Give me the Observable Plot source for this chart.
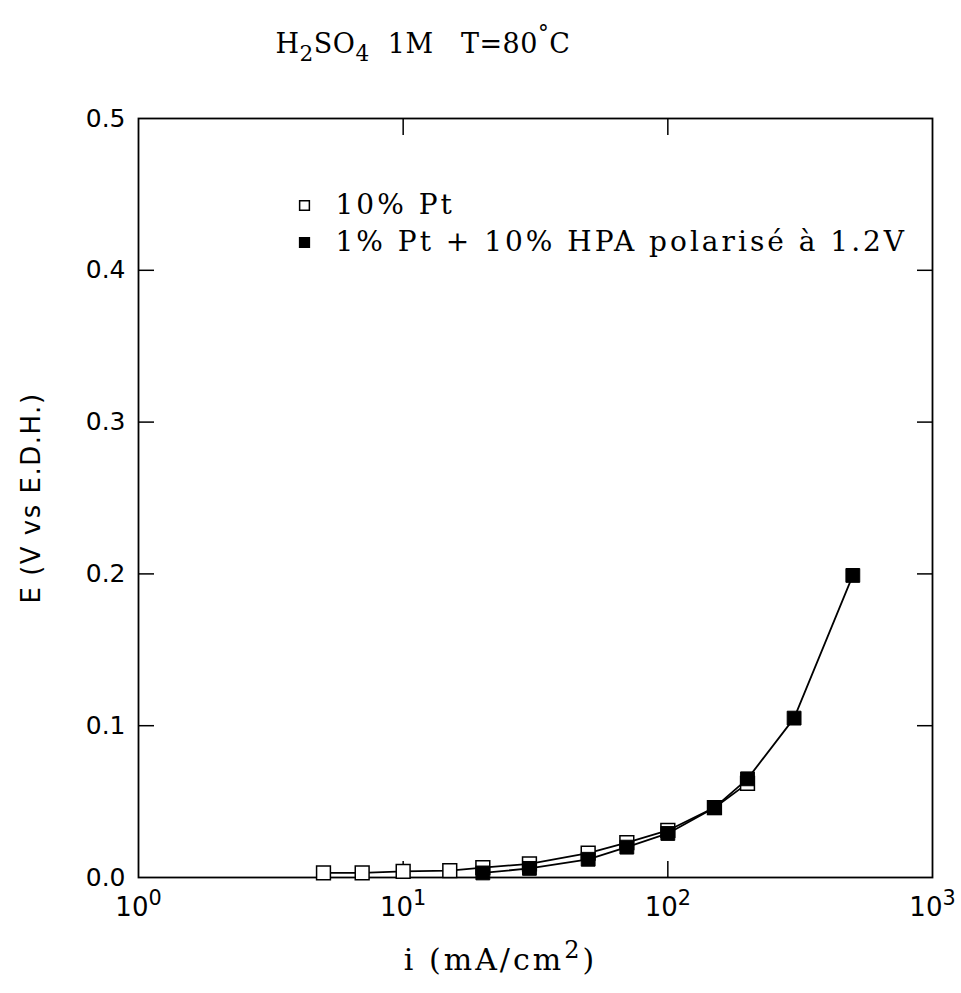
<!DOCTYPE html>
<html><head><meta charset="utf-8">
<script src="https://cdn.jsdelivr.net/npm/d3@7"></script>
<script src="https://cdn.jsdelivr.net/npm/@observablehq/plot@0.6"></script>
<style>body{margin:0;background:#fff}</style>
</head><body><div id="chart"></div>
<script>
// ---- text (^x = superscript, _x = subscript) ----
const titleText = "H_2SO_4\u00a0\u00a01M\u00a0\u00a0\u00a0T=80^°C";
const xLabel = "i (mA/cm^2)";
const yLabel = "E (V vs E.D.H.)";
const seriesNames = ["10% Pt", "1% Pt + 10% HPA polarisé à 1.2V"];

// ---- data ----
const iOpen = [5, 7, 10, 15, 20, 30, 50, 70, 100, 150, 200];
const eOpen = [0.003, 0.003, 0.004, 0.0045, 0.0065, 0.009, 0.016, 0.023, 0.031, 0.046, 0.062];
const iFilled = [20, 30, 50, 70, 100, 150, 200, 300, 500];
const eFilled = [0.003, 0.006, 0.012, 0.020, 0.029, 0.046, 0.065, 0.105, 0.199];

// ---- ticks ----
const xTicks = [1, 10, 100, 1000];
const xTickLabels = ["10^0", "10^1", "10^2", "10^3"];
const xInnerTicks = [10, 100];
const yTicks = [0, 0.1, 0.2, 0.3, 0.4, 0.5];
const yTickLabels = ["0.0", "0.1", "0.2", "0.3", "0.4", "0.5"];
const yInnerTicks = [0.1, 0.2, 0.3, 0.4];

const openData = iOpen.map((i, k) => ({i, e: eOpen[k]}));
const filledData = iFilled.map((i, k) => ({i, e: eFilled[k]}));

const serif = "DejaVu Serif";
const sans = "DejaVu Sans";

const chart = Plot.plot({
  width: 961, height: 993,
  marginLeft: 138, marginRight: 29, marginTop: 118, marginBottom: 116,
  style: {fontFamily: sans, fontSize: "24px", color: "#000", background: "#fff"},
  x: {type: "log", domain: [1, 1000]},
  y: {domain: [0, 0.5]},
  marks: [
    Plot.axisX(xTicks, {anchor: "bottom", tickSize: 0, tickPadding: 20, label: null,
      tickFormat: d => xTickLabels[xTicks.indexOf(d)], fontSize: 26, fontFamily: sans}),
    Plot.axisX(xInnerTicks, {anchor: "bottom", tickSize: -16, label: null, tickFormat: () => "", strokeWidth: 1.5}),
    Plot.axisX(xInnerTicks, {anchor: "top", tickSize: -16, label: null, tickFormat: () => "", strokeWidth: 1.5}),
    Plot.axisY(yTicks, {anchor: "left", tickSize: 0, tickPadding: 13, label: null,
      tickFormat: d => yTickLabels[yTicks.indexOf(d)], fontSize: 25, fontFamily: sans}),
    Plot.axisY(yInnerTicks, {anchor: "left", tickSize: -16, label: null, tickFormat: () => "", strokeWidth: 1.5}),
    Plot.axisY(yInnerTicks, {anchor: "right", tickSize: -16, label: null, tickFormat: () => "", strokeWidth: 1.5}),
    Plot.frame({stroke: "#000", strokeWidth: 1.8}),
    Plot.line(openData, {x: "i", y: "e", stroke: "#000", strokeWidth: 1.8}),
    Plot.line(filledData, {x: "i", y: "e", stroke: "#000", strokeWidth: 1.8}),
    Plot.dot(openData, {x: "i", y: "e", symbol: "square", r: 7.8, fill: "#fff", stroke: "#000", strokeWidth: 1.5}),
    Plot.dot(filledData, {x: "i", y: "e", symbol: "square", r: 7.8, fill: "#000", stroke: "#000", strokeWidth: 1}),
    // legend
    Plot.dot([seriesNames[0]], {frameAnchor: "top-left", dx: 166, dy: 87, symbol: "square", r: 5.5, fill: "#fff", stroke: "#000", strokeWidth: 1.5}),
    Plot.dot([seriesNames[1]], {frameAnchor: "top-left", dx: 166, dy: 124, symbol: "square", r: 5.5, fill: "#000", stroke: "#000"}),
    Plot.text([seriesNames[0]], {frameAnchor: "top-left", dx: 197, dy: 87, textAnchor: "start", lineAnchor: "middle", fontFamily: serif, fontSize: 28}),
    Plot.text([seriesNames[1]], {frameAnchor: "top-left", dx: 197, dy: 124, textAnchor: "start", lineAnchor: "middle", fontFamily: serif, fontSize: 28}),
    // title and axis labels
    Plot.text([titleText], {frameAnchor: "top-left", dx: 137, dy: -74, textAnchor: "start", lineAnchor: "middle", fontFamily: serif, fontSize: 27}),
    Plot.text([xLabel], {frameAnchor: "bottom-left", dx: 362, dy: 83, textAnchor: "middle", lineAnchor: "middle", fontFamily: serif, fontSize: 30}),
    Plot.text([yLabel], {frameAnchor: "left", rotate: -90, dx: -107, textAnchor: "middle", lineAnchor: "middle", fontFamily: sans, fontSize: 26})
  ]
});

const svg = d3.select(chart);
const spacing = new Map([
  [seriesNames[0], "3px"], [seriesNames[1], "3px"],
  [xLabel, "3px"], [yLabel, "1.5px"], [titleText, "0.5px"]
]);
function rich(el, supShift, subShift) {
  const t = el.textContent;
  if (!/[_^]/.test(t)) return;
  const s = d3.select(el);
  s.text(null);
  for (const p of t.split(/([_^].)/).filter(p => p !== "")) {
    if (p.length === 2 && p[0] === "^") {
      s.append("tspan").attr("baseline-shift", supShift).attr("font-size", "0.8em").text(p[1]);
    } else if (p.length === 2 && p[0] === "_") {
      s.append("tspan").attr("baseline-shift", subShift).attr("font-size", "0.8em").text(p[1]);
    } else {
      s.append("tspan").text(p);
    }
  }
}
svg.selectAll("text").each(function () {
  const t = this.textContent;
  if (spacing.has(t)) d3.select(this).style("letter-spacing", spacing.get(t));
  if (xTickLabels.includes(t)) rich(this, "11px", "0px");
  else rich(this, "12px", "-8px");
});
document.getElementById("chart").append(chart);
</script>
</body></html>
